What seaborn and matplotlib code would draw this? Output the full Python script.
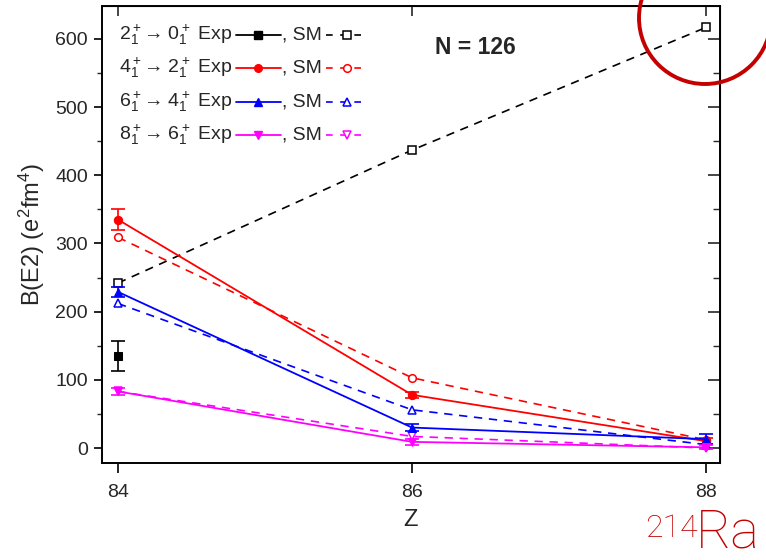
import numpy as np
import pandas as pd
import matplotlib
matplotlib.use("Agg")
import matplotlib.pyplot as plt
from matplotlib.lines import Line2D
from matplotlib.patches import Ellipse
import seaborn as sns

# ---------------- data ----------------
Z = [84, 86, 88]

exp_2_z = [84]
exp_2 = [135]
exp_2_err = [22]
sm_2 = [242, 437, 617]

exp_4 = [335, 78, 10]
exp_4_err = [15, 4, 4]
sm_4 = [309, 103, 12]

exp_6 = [229, 30, 13]
exp_6_err = [7, 5, 7]
sm_6 = [212, 56, 5]

exp_8 = [83, 9, 1]
exp_8_err = [5, 4, 3]
sm_8 = [83, 17, 0]

series_labels = [r"2$_1^+$→ 0$_1^+$ Exp", r"4$_1^+$→ 2$_1^+$ Exp",
                 r"6$_1^+$→ 4$_1^+$ Exp", r"8$_1^+$→ 6$_1^+$ Exp"]
sm_label = ", SM"
colors = ["black", "#ff0000", "#0000ff", "#ff00ff"]
markers = ["s", "o", "^", "v"]

# ---------------- figure ----------------
sns.set_style("ticks")
plt.rcParams["font.family"] = ["Liberation Sans", "DejaVu Sans"]
plt.rcParams["mathtext.fontset"] = "custom"
plt.rcParams["mathtext.rm"] = "Liberation Sans"
plt.rcParams["mathtext.it"] = "Liberation Sans"
plt.rcParams["mathtext.bf"] = "Liberation Sans:bold"

W, H = 766, 560
fig = plt.figure(figsize=(W / 100, H / 100), dpi=100)
AX_L, AX_R, AX_T, AX_B = 102, 720, 6, 463
ax = fig.add_axes([AX_L / W, 1 - AX_B / H, (AX_R - AX_L) / W, (AX_B - AX_T) / H])

exp_sets = [(exp_2_z, exp_2, exp_2_err), (Z, exp_4, exp_4_err), (Z, exp_6, exp_6_err), (Z, exp_8, exp_8_err)]
sm_sets = [sm_2, sm_4, sm_6, sm_8]

ms = 5.5
for (zx, vals, errs), sm, c, m in zip(exp_sets, sm_sets, colors, markers):
    df_sm = pd.DataFrame({"Z": Z, "B": sm})
    sns.lineplot(data=df_sm, x="Z", y="B", ax=ax, color=c, linestyle=(0, (5, 4)), lw=1.2,
                 marker=m, markersize=ms, markerfacecolor="white", markeredgecolor=c,
                 markeredgewidth=1.1, legend=False, zorder=2)
    df_e = pd.DataFrame({"Z": zx, "B": vals})
    sns.lineplot(data=df_e, x="Z", y="B", ax=ax, color=c, linestyle="-", lw=1.3,
                 marker=m, markersize=ms + 0.5, markerfacecolor=c, markeredgecolor=c,
                 legend=False, zorder=3)
    ax.errorbar(zx, vals, yerr=errs, fmt="none", ecolor=c, elinewidth=1.2,
                capsize=5, capthick=1.2, zorder=3)

ax.set_xlim(83.891, 88.095)
ax.set_ylim(-22, 648.4)
ax.set_xticks([84, 86, 88])
ax.set_yticks([0, 100, 200, 300, 400, 500, 600])
ax.set_yticks(np.arange(0, 650, 50), minor=True)

for s in ax.spines.values():
    s.set_visible(True)
    s.set_linewidth(1.4)
    s.set_color("black")

ax.tick_params(axis="both", which="major", labelsize=14, width=1.2, color="black")
ax.tick_params(axis="x", which="major", direction="out", length=7, pad=8, top=False)
ax.tick_params(axis="y", which="major", direction="out", length=6, pad=4, right=False)
ax.tick_params(axis="y", which="minor", direction="out", length=3.5, width=1.0, right=False)

# mirrored inward ticks on top and right
axt = ax.secondary_xaxis("top")
axt.set_xticks([84, 86, 88])
axt.tick_params(direction="in", length=7, width=1.2, labeltop=False)
axr = ax.secondary_yaxis("right")
axr.set_yticks([0, 100, 200, 300, 400, 500, 600])
axr.set_yticks(np.arange(0, 650, 50), minor=True)
axr.tick_params(which="major", direction="in", length=9, width=1.2, labelright=False)
axr.tick_params(which="minor", direction="in", length=5, width=1.0, labelright=False)

ax.set_xlabel("Z", fontsize=17, labelpad=6)
ax.set_ylabel(r"B(E2) (e$^2$fm$^4$)", fontsize=17, labelpad=6)

ax.text((475 - AX_L) / (AX_R - AX_L), (AX_B - 48) / (AX_B - AX_T), "N = 126",
        transform=ax.transAxes, fontsize=16.5, fontweight="bold", ha="center", va="center")

# ---------------- manual legend (label, solid handle, ", SM", dashed handle) ----------------
def px2ax(px, py):
    return (px - AX_L) / (AX_R - AX_L), (AX_B - py) / (AX_B - AX_T)

row_y = [35, 68, 102, 135]
fig.canvas.draw()
renderer = fig.canvas.get_renderer()
for lab, c, m, ry in zip(series_labels, colors, markers, row_y):
    tx, ty = px2ax(119, ry)
    t = ax.text(tx, ty, lab, transform=ax.transAxes, fontsize=14, ha="left", va="center")
    bb = t.get_window_extent(renderer=renderer)
    x1 = bb.x1
    xs = [x1 + 4, x1 + 26, x1 + 49]
    pts = [px2ax(x, ry) for x in xs]
    ax.add_line(Line2D([p[0] for p in pts], [p[1] for p in pts], transform=ax.transAxes,
                       color=c, lw=1.3, marker=m, markersize=ms, markerfacecolor=c,
                       markeredgecolor=c, markevery=[1], clip_on=False))
    sx, sy = px2ax(x1 + 50, ry)
    t2 = ax.text(sx, sy, sm_label, transform=ax.transAxes, fontsize=14, ha="left", va="center")
    bb2 = t2.get_window_extent(renderer=renderer)
    x2 = bb2.x1
    xs2 = [x2 + 4, x2 + 25, x2 + 46]
    pts2 = [px2ax(x, ry) for x in xs2]
    ax.add_line(Line2D([p[0] for p in pts2], [p[1] for p in pts2], transform=ax.transAxes,
                       color=c, lw=1.2, linestyle=(0, (4, 4.5)), marker=m, markersize=ms,
                       markerfacecolor="white", markeredgecolor=c, markeredgewidth=1.1,
                       markevery=[1], clip_on=False))

# ---------------- annotation: red circle and label ----------------
red = "#c40000"
circ = Ellipse((705 / W, 1 - 18 / H), 132 / W, 132 / H, transform=fig.transFigure,
               fill=False, edgecolor=red, lw=2.8, clip_on=False)
fig.add_artist(circ)
fig.text(698 / W, (H - 537) / H, "214", color=red, fontsize=23, family="Roboto",
         fontweight="light", ha="right", va="baseline")
fig.text(760 / W, 1.5 / H, "Ra", color=red, fontsize=39, family="Roboto",
         fontweight="light", ha="right", va="bottom")

fig.savefig("out.png", dpi=100)
